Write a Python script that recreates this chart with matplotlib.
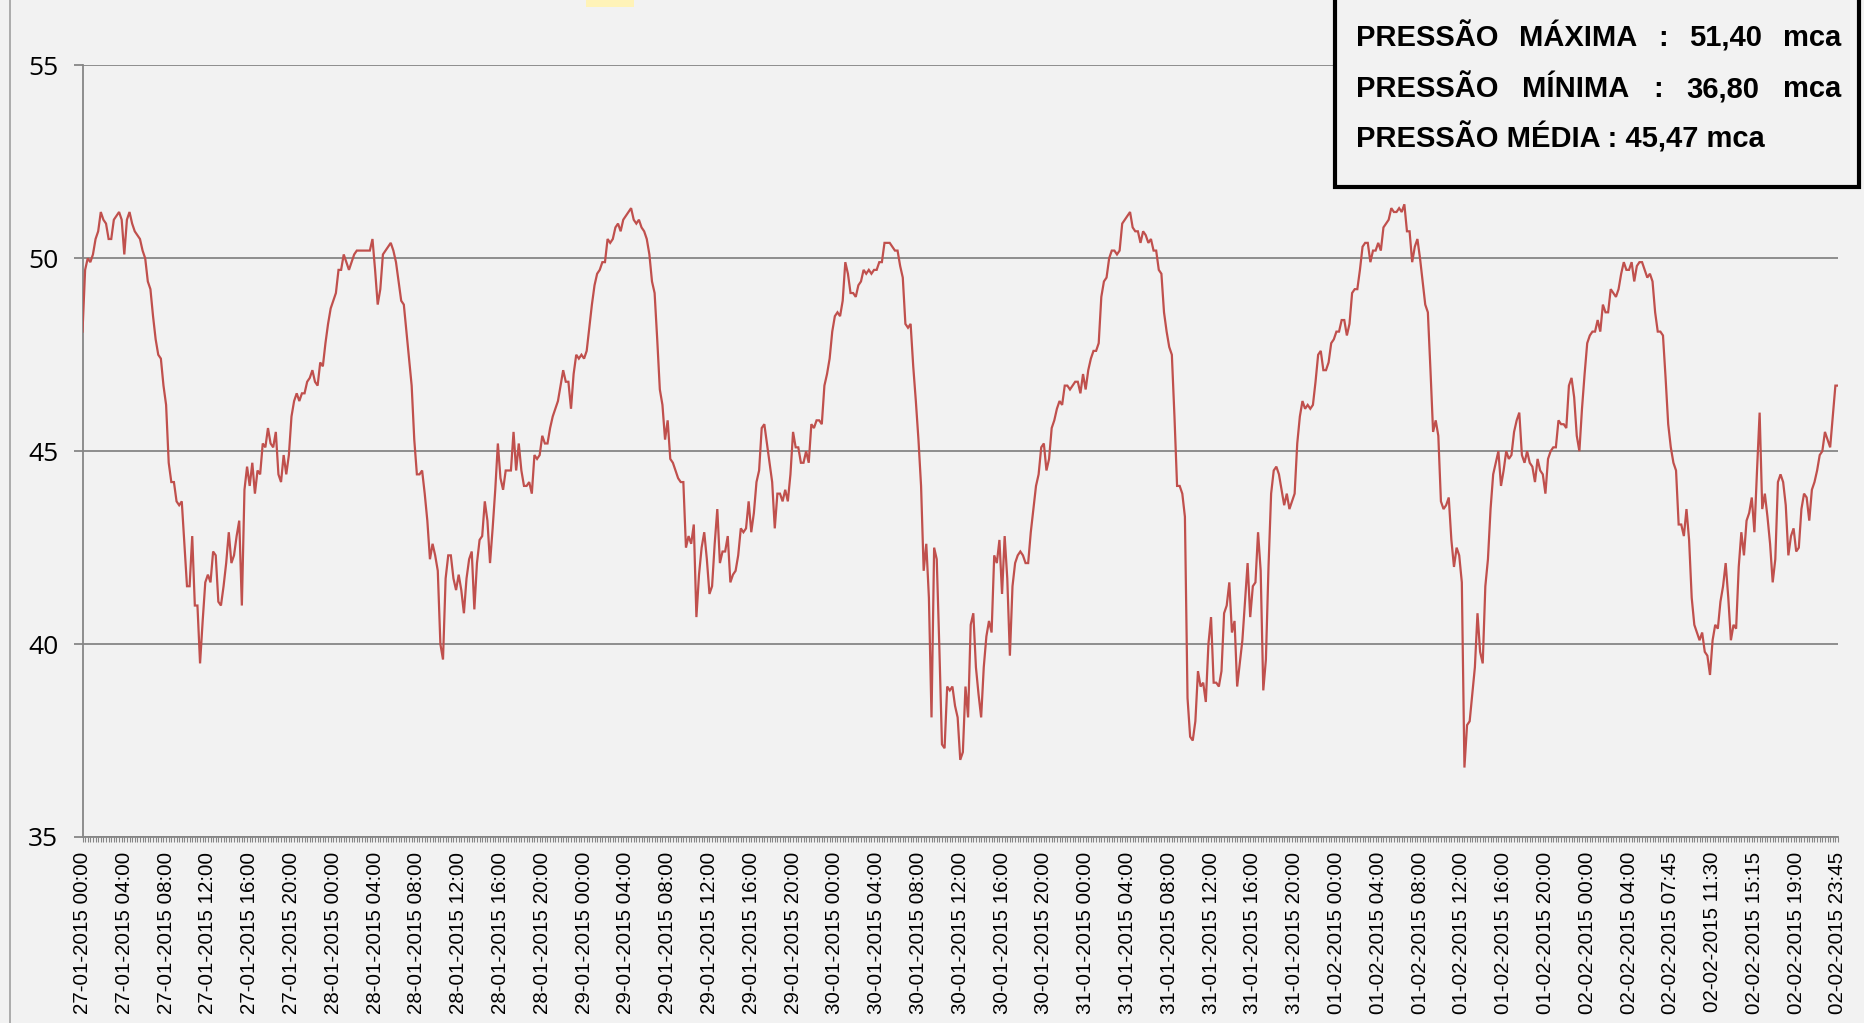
import matplotlib
matplotlib.use("Agg")
import matplotlib.pyplot as plt
from matplotlib.patches import Rectangle
from matplotlib.ticker import FixedLocator, MultipleLocator
import numpy as np

# pressure readings every 15 min (mca), one list per day
day_27 = [48.1, 49.7, 50.0, 49.9, 50.1, 50.5, 50.7, 51.2, 51.0, 50.9, 50.5, 50.5, 51.0, 51.1, 51.2, 51.0,
          50.1, 51.0, 51.2, 50.9, 50.7, 50.6, 50.5, 50.2, 50.0, 49.4, 49.2, 48.5, 47.9, 47.5, 47.4, 46.7,
          46.2, 44.7, 44.2, 44.2, 43.7, 43.6, 43.7, 42.6, 41.5, 41.5, 42.8, 41.0, 41.0, 39.5, 40.6, 41.6,
          41.8, 41.6, 42.4, 42.3, 41.1, 41.0, 41.5, 42.1, 42.9, 42.1, 42.3, 42.8, 43.2, 41.0, 44.0, 44.6,
          44.1, 44.7, 43.9, 44.5, 44.4, 45.2, 45.1, 45.6, 45.2, 45.1, 45.5, 44.4, 44.2, 44.9, 44.4, 44.9,
          45.9, 46.3, 46.5, 46.3, 46.5, 46.5, 46.8, 46.9, 47.1, 46.8, 46.7, 47.3, 47.2, 47.8, 48.3, 48.7]
day_28 = [48.9, 49.1, 49.7, 49.7, 50.1, 49.9, 49.7, 49.9, 50.1, 50.2, 50.2, 50.2, 50.2, 50.2, 50.2, 50.5,
          49.7, 48.8, 49.2, 50.1, 50.2, 50.3, 50.4, 50.2, 49.9, 49.4, 48.9, 48.8, 48.1, 47.4, 46.7, 45.3,
          44.4, 44.4, 44.5, 43.9, 43.2, 42.2, 42.6, 42.3, 41.9, 40.0, 39.6, 41.7, 42.3, 42.3, 41.7, 41.4,
          41.8, 41.4, 40.8, 41.7, 42.2, 42.4, 40.9, 42.1, 42.7, 42.8, 43.7, 43.2, 42.1, 43.0, 44.0, 45.2,
          44.3, 44.0, 44.5, 44.5, 44.5, 45.5, 44.5, 45.2, 44.5, 44.1, 44.1, 44.2, 43.9, 44.9, 44.8, 44.9,
          45.4, 45.2, 45.2, 45.6, 45.9, 46.1, 46.3, 46.7, 47.1, 46.8, 46.8, 46.1, 47.0, 47.5, 47.4, 47.5]
day_29 = [47.4, 47.6, 48.2, 48.8, 49.3, 49.6, 49.7, 49.9, 49.9, 50.5, 50.4, 50.5, 50.8, 50.9, 50.7, 51.0,
          51.1, 51.2, 51.3, 51.0, 50.9, 51.0, 50.8, 50.7, 50.5, 50.1, 49.4, 49.1, 47.9, 46.6, 46.2, 45.3,
          45.8, 44.8, 44.7, 44.5, 44.3, 44.2, 44.2, 42.5, 42.8, 42.6, 43.1, 40.7, 41.8, 42.5, 42.9, 42.2,
          41.3, 41.5, 42.6, 43.5, 42.1, 42.4, 42.4, 42.8, 41.6, 41.8, 41.9, 42.3, 43.0, 42.9, 43.0, 43.7,
          42.9, 43.4, 44.2, 44.5, 45.6, 45.7, 45.2, 44.7, 44.2, 43.0, 43.9, 43.9, 43.7, 44.0, 43.7, 44.4,
          45.5, 45.1, 45.1, 44.7, 44.7, 45.0, 44.7, 45.7, 45.6, 45.8, 45.8, 45.7, 46.7, 47.0, 47.4, 48.1]
day_30 = [48.5, 48.6, 48.5, 48.9, 49.9, 49.6, 49.1, 49.1, 49.0, 49.3, 49.4, 49.7, 49.6, 49.7, 49.6, 49.7,
          49.7, 49.9, 49.9, 50.4, 50.4, 50.4, 50.3, 50.2, 50.2, 49.8, 49.5, 48.3, 48.2, 48.3, 47.2, 46.3,
          45.3, 44.1, 41.9, 42.6, 41.2, 38.1, 42.5, 42.2, 39.9, 37.4, 37.3, 38.9, 38.8, 38.9, 38.4, 38.1,
          37.0, 37.2, 38.9, 38.1, 40.5, 40.8, 39.4, 38.7, 38.1, 39.4, 40.2, 40.6, 40.3, 42.3, 42.1, 42.7,
          41.3, 42.8, 41.7, 39.7, 41.5, 42.1, 42.3, 42.4, 42.3, 42.1, 42.1, 42.9, 43.5, 44.1, 44.4, 45.1,
          45.2, 44.5, 44.8, 45.6, 45.8, 46.1, 46.3, 46.2, 46.7, 46.7, 46.6, 46.7, 46.8, 46.8, 46.5, 47.0]
day_31 = [46.6, 47.1, 47.4, 47.6, 47.6, 47.8, 49.0, 49.4, 49.5, 50.0, 50.2, 50.2, 50.1, 50.2, 50.9, 51.0,
          51.1, 51.2, 50.8, 50.7, 50.7, 50.4, 50.7, 50.6, 50.4, 50.5, 50.2, 50.2, 49.7, 49.6, 48.6, 48.1,
          47.7, 47.5, 45.9, 44.1, 44.1, 43.9, 43.3, 38.6, 37.6, 37.5, 38.0, 39.3, 38.9, 39.0, 38.5, 40.0,
          40.7, 39.0, 39.0, 38.9, 39.3, 40.8, 41.0, 41.6, 40.3, 40.6, 38.9, 39.5, 40.1, 41.1, 42.1, 40.7,
          41.5, 41.6, 42.9, 41.9, 38.8, 39.6, 42.0, 43.9, 44.5, 44.6, 44.4, 44.0, 43.6, 43.9, 43.5, 43.7,
          43.9, 45.2, 45.9, 46.3, 46.1, 46.2, 46.1, 46.2, 46.8, 47.5, 47.6, 47.1, 47.1, 47.3, 47.8, 47.9]
day_01 = [48.1, 48.1, 48.4, 48.4, 48.0, 48.3, 49.1, 49.2, 49.2, 49.7, 50.3, 50.4, 50.4, 49.9, 50.2, 50.2,
          50.4, 50.2, 50.8, 50.9, 51.0, 51.3, 51.2, 51.2, 51.3, 51.2, 51.4, 50.7, 50.7, 49.9, 50.3, 50.5,
          50.0, 49.4, 48.8, 48.6, 47.1, 45.5, 45.8, 45.4, 43.7, 43.5, 43.6, 43.8, 42.7, 42.0, 42.5, 42.3,
          41.6, 36.8, 37.9, 38.0, 38.7, 39.4, 40.8, 39.8, 39.5, 41.5, 42.2, 43.5, 44.4, 44.7, 45.0, 44.1,
          44.5, 45.0, 44.8, 44.9, 45.5, 45.8, 46.0, 44.9, 44.7, 45.0, 44.7, 44.6, 44.2, 44.8, 44.5, 44.4,
          43.9, 44.8, 45.0, 45.1, 45.1, 45.8, 45.7, 45.7, 45.6, 46.7, 46.9, 46.4, 45.4, 45.0, 46.1, 47.0]
day_02 = [47.8, 48.0, 48.1, 48.1, 48.4, 48.1, 48.8, 48.6, 48.6, 49.2, 49.1, 49.0, 49.2, 49.6, 49.9, 49.7,
          49.7, 49.9, 49.4, 49.8, 49.9, 49.9, 49.7, 49.5, 49.6, 49.4, 48.6, 48.1, 48.1, 48.0, 46.9, 45.7,
          45.1, 44.7, 44.5, 43.1, 43.1, 42.8, 43.5, 42.7, 41.2, 40.5, 40.3, 40.1, 40.3, 39.8, 39.7, 39.2,
          40.1, 40.5, 40.4, 41.1, 41.5, 42.1, 41.2, 40.1, 40.5, 40.4, 42.0, 42.9, 42.3, 43.2, 43.4, 43.8,
          42.9, 44.5, 46.0, 43.5, 43.9, 43.3, 42.6, 41.6, 42.2, 44.2, 44.4, 44.2, 43.6, 42.3, 42.8, 43.0,
          42.4, 42.5, 43.5, 43.9, 43.8, 43.2, 44.0, 44.2, 44.5, 44.9, 45.0, 45.5, 45.3, 45.1, 45.9, 46.7,
          46.7]

pressure = day_27 + day_28 + day_29 + day_30 + day_31 + day_01 + day_02

tick_labels = []
for d in ["27-01-2015", "28-01-2015", "29-01-2015", "30-01-2015", "31-01-2015", "01-02-2015"]:
    for h in ["00:00", "04:00", "08:00", "12:00", "16:00", "20:00"]:
        tick_labels.append(d + " " + h)
tick_labels += ["02-02-2015 00:00", "02-02-2015 04:00", "02-02-2015 07:45", "02-02-2015 11:30",
                "02-02-2015 15:15", "02-02-2015 19:00", "02-02-2015 23:45"]

stat_lines = [["PRESSÃO", "MÁXIMA", ":", "51,40", "mca"],
              ["PRESSÃO", "MÍNIMA", ":", "36,80", "mca"]]
mean_line = "PRESSÃO MÉDIA : 45,47 mca"

W, H = 1865, 1023
bg = "#F2F2F2"
grid_c = "#868686"

fig = plt.figure(figsize=(W / 100, H / 100), dpi=100, facecolor=bg)
ax = fig.add_axes([82.5 / W, 1 - 837 / H, (1838 - 82.5) / W, (837 - 65.4) / H])
ax.set_facecolor(bg)

x = np.arange(len(pressure))
ax.plot(x, pressure, color="#C0504D", lw=1.6, solid_joinstyle="miter", zorder=3)

ax.set_xlim(0, len(pressure) - 1)
ax.set_ylim(35, 55)
ax.set_yticks([35, 40, 45, 50, 55])
ax.yaxis.grid(True, color=grid_c, lw=1.3)
ax.set_axisbelow(True)

ax.xaxis.set_major_locator(FixedLocator(np.arange(0, len(pressure), 16)))
ax.xaxis.set_minor_locator(MultipleLocator(1))
ax.set_xticklabels(tick_labels, rotation=90, fontsize=14.8, family="Liberation Sans")
ax.tick_params(axis="x", which="both", length=3.8, width=0.8, color=grid_c, pad=7)
ax.tick_params(axis="y", length=6.5, width=1.3, color=grid_c, pad=11, labelsize=19)
for lab in ax.get_yticklabels():
    lab.set_family("Open Sans")

for s in ["top", "right"]:
    ax.spines[s].set_visible(False)
ax.spines["left"].set_color(grid_c)
ax.spines["left"].set_linewidth(1.3)
ax.spines["bottom"].set_color(grid_c)
ax.spines["bottom"].set_linewidth(1.3)

# outer chart border on the left
fig.add_artist(plt.Line2D([10 / W, 10 / W], [0, 1], color="#A6A6A6", lw=1.3, transform=fig.transFigure))
# small yellow highlight cut off at the top edge
fig.add_artist(Rectangle((586 / W, 1 - 7 / H), 48 / W, 8 / H, transform=fig.transFigure,
                         facecolor="#FFF3B8", edgecolor="none"))

# statistics box
bx0, by0, bx1, by1 = 1335, 187, 1859, -10
fig.add_artist(Rectangle((bx0 / W, 1 - by0 / H), (bx1 - bx0) / W, (by0 - by1) / H,
                         transform=fig.transFigure, facecolor=bg, edgecolor="black", lw=3, zorder=5))
font = dict(family="Liberation Sans", weight="bold", fontsize=21, va="center", zorder=6)
left_x, right_x = 1356, 1841

# justified lines: spread the words evenly between left_x and right_x
renderer = fig.canvas.get_renderer()
for row, y in zip(stat_lines, [38, 89]):
    texts = [fig.text(0, 1 - y / H, w, ha="left", **font) for w in row]
    widths = [t.get_window_extent(renderer).width for t in texts]
    gap = (right_x - left_x - sum(widths)) / (len(row) - 1)
    pos = left_x
    for t, wd in zip(texts, widths):
        t.set_x(pos / W)
        pos += wd + gap
fig.text(left_x / W, 1 - 138 / H, mean_line, ha="left", **font)

fig.savefig("out.png", dpi=100, facecolor=bg)
